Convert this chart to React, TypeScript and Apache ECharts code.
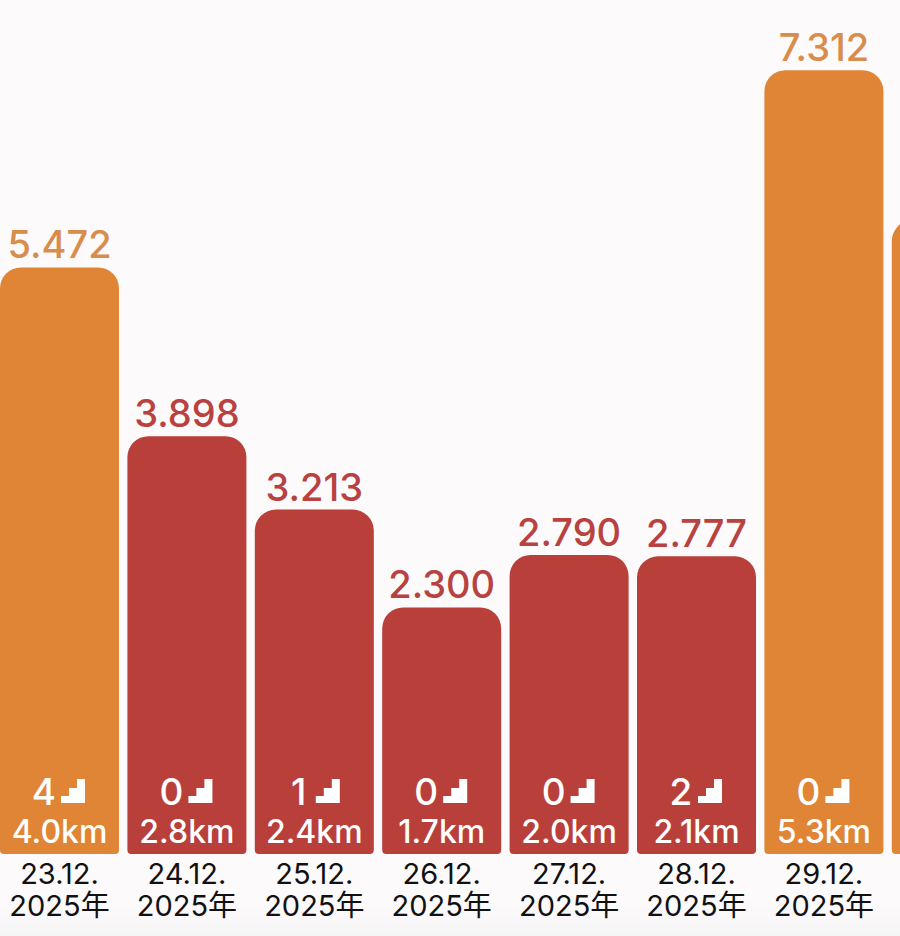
import React, { useEffect, useRef } from "react";
import * as echarts from "echarts";

const dates = ["23.12.\n2025年", "24.12.\n2025年", "25.12.\n2025年", "26.12.\n2025年", "27.12.\n2025年", "28.12.\n2025年", "29.12.\n2025年", ""];
const steps = [5472, 3898, 3213, 2300, 2790, 2777, 7312, 5914];
const floors = [4, 0, 1, 0, 0, 2, 0, null];
const distances = ["4.0km", "2.8km", "2.4km", "1.7km", "2.0km", "2.1km", "5.3km", null];

const ORANGE = "#E08535";
const RED = "#B93F3A";
const ORANGE_TEXT = "#D98D4B";
const RED_TEXT = "#B8423F";
const GOAL = 5000;
const FONT = "Inter, 'Noto Sans CJK JP', sans-serif";
const STAIR = "M0 24V17H8V9H16V0H24V24Z";

const fmt = (v: number) => `${Math.floor(v / 1000)}.${String(v % 1000).padStart(3, "0")}`;

export default function App() {
  const ref = useRef<HTMLDivElement>(null);
  useEffect(() => {
    const chart = echarts.init(ref.current!, null, { renderer: "svg" });
    chart.setOption({
      animation: false,
      backgroundColor: "transparent",
      grid: { left: -4.2, top: -3.6, width: 1019.2, height: 857.6, containLabel: false, outerBoundsMode: "none" },
      xAxis: {
        type: "category",
        data: dates,
        axisLine: { show: false },
        axisTick: { show: false },
        axisLabel: {
          interval: 0,
          margin: 3,
          color: "#111111",
          fontSize: 29,
          lineHeight: 32,
          fontFamily: FONT,
          align: "center",
          verticalAlign: "top",
        },
      },
      yAxis: { type: "value", min: 0, max: 8000, show: false },
      series: [
        {
          type: "bar",
          barWidth: 119,
          silent: true,
          data: steps.map((v) => ({
            value: v,
            itemStyle: {
              color: v >= GOAL ? ORANGE : RED,
              borderRadius: [21, 21, 4, 4],
            },
            label: {
              show: true,
              position: "top",
              distance: 4,
              formatter: fmt(v),
              color: v >= GOAL ? ORANGE_TEXT : RED_TEXT,
              fontSize: 38,
              fontWeight: 500,
              fontFamily: FONT,
            },
          })),
        },
        {
          type: "custom",
          silent: true,
          clip: false,
          z: 5,
          data: steps.map((_, i) => [i, 0]),
          encode: { x: 0, y: 1 },
          renderItem: (_p: any, api: any) => {
            const i = api.value(0);
            const [cx, base] = api.coord([i, 0]);
            if (floors[i] == null) return { type: "group", children: [] };
            return {
              type: "group",
              children: [
                {
                  type: "text",
                  style: {
                    text: String(floors[i]),
                    x: cx - 15.5,
                    y: base - 63,
                    fill: "#FFFFFF",
                    font: `500 37px ${FONT}`,
                    textAlign: "center",
                    textVerticalAlign: "middle",
                  },
                },
                {
                  type: "path",
                  shape: { pathData: STAIR, x: cx + 1.5, y: base - 75, width: 24, height: 24 },
                  style: { fill: "#FFFFFF" },
                },
                {
                  type: "text",
                  style: {
                    text: distances[i],
                    x: cx,
                    y: base - 23,
                    fill: "#FFFFFF",
                    font: `500 32px ${FONT}`,
                    textAlign: "center",
                    textVerticalAlign: "middle",
                  },
                },
              ],
            };
          },
        },
      ],
    });
    return () => chart.dispose();
  }, []);
  return (
    <div
      style={{
        position: "fixed",
        left: 0,
        top: 0,
        width: 900,
        height: 936,
        overflow: "hidden",
        background: "linear-gradient(180deg, #FDFAFC 0%, #FDFAFC 96%, #F6F5F6 100%)",
      }}
    >
      <div ref={ref} style={{ width: 900, height: 936 }} />
    </div>
  );
}
